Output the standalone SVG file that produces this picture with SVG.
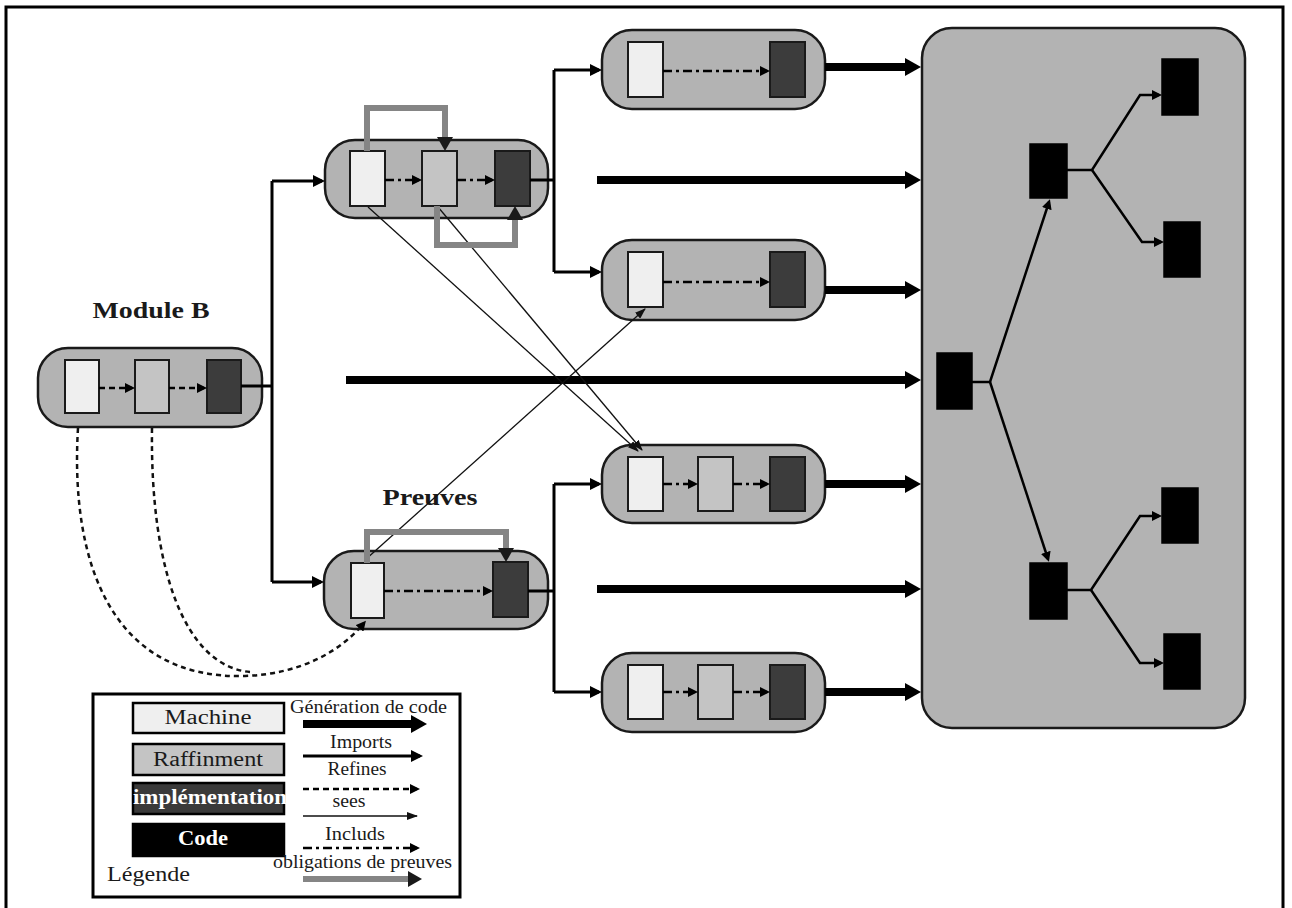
<svg xmlns="http://www.w3.org/2000/svg" width="1292" height="908" viewBox="0 0 1292 908">
  <style>
    .capsule { fill: #b3b3b3; stroke: #1a1a1a; stroke-width: 2.5; }
    .machine { fill: #efefef; stroke: #1a1a1a; stroke-width: 2; }
    .raff { fill: #c4c4c4; stroke: #1a1a1a; stroke-width: 2; }
    .impl { fill: #3c3c3c; stroke: #1a1a1a; stroke-width: 2; }
    .code { fill: #000; stroke: #000; stroke-width: 1.5; }
    .gen { fill: none; stroke: #000; stroke-width: 8; }
    .imp { fill: none; stroke: #000; stroke-width: 3; }
    .refines { fill: none; stroke: #000; stroke-width: 2.5; stroke-dasharray: 6 4; }
    .includs { fill: none; stroke: #000; stroke-width: 2.5; stroke-dasharray: 9 4 3 4; }
    .sees { fill: none; stroke: #111; stroke-width: 1.3; }
    .proof { fill: none; stroke: #858585; stroke-width: 6; }
    .curve { fill: none; stroke: #111; stroke-width: 2.5; stroke-dasharray: 5 4; }
    .tree { fill: none; stroke: #000; stroke-width: 2.5; }
    .title { font-family: "Liberation Serif", serif; font-weight: bold; fill: #1a1a1a; }
    .lg { font-family: "Liberation Serif", serif; fill: #1a1a1a; }
    .lgw { font-family: "Liberation Serif", serif; font-weight: bold; fill: #fff; }
  </style>
  <defs>
    <marker id="m-gen" markerUnits="userSpaceOnUse" markerWidth="16" markerHeight="18" refX="8" refY="9" orient="auto">
      <path d="M0,0 L16,9 L0,18 z" fill="#000"/>
    </marker>
    <marker id="m-imp" markerUnits="userSpaceOnUse" markerWidth="12" markerHeight="12" refX="9" refY="6" orient="auto">
      <path d="M0,0 L12,6 L0,12 z" fill="#000"/>
    </marker>
    <marker id="m-dash" markerUnits="userSpaceOnUse" markerWidth="10" markerHeight="10" refX="7" refY="5" orient="auto">
      <path d="M0,0 L10,5 L0,10 z" fill="#000"/>
    </marker>
    <marker id="m-sees" markerUnits="userSpaceOnUse" markerWidth="11" markerHeight="8" refX="10" refY="4" orient="auto">
      <path d="M0,0 L11,4 L0,8 z" fill="#111"/>
    </marker>
    <marker id="m-proof" markerUnits="userSpaceOnUse" markerWidth="14" markerHeight="16" refX="8" refY="8" orient="auto">
      <path d="M0,0 L14,8 L0,16 z" fill="#1a1a1a"/>
    </marker>
    <marker id="m-code" markerUnits="userSpaceOnUse" markerWidth="10" markerHeight="10" refX="7" refY="5" orient="auto">
      <path d="M0,0 L10,5 L0,10 z" fill="#000"/>
    </marker>
  </defs>

  <rect width="1292" height="908" fill="#fff"/>
  <!-- page frame -->
  <path d="M6,908 V7 H1283 V908" fill="none" stroke="#000" stroke-width="3"/>

  <!-- Module B: machine, refinement, implementation -->
  <g id="module-b">
    <text class="title" x="151" y="318" font-size="24" text-anchor="middle" textLength="117" lengthAdjust="spacingAndGlyphs">Module B</text>
    <rect class="capsule" x="38" y="348" width="224" height="79" rx="30"/>
    <rect class="machine" x="65" y="360" width="34" height="53"/>
    <rect class="raff" x="135" y="360" width="34" height="53"/>
    <rect class="impl" x="207" y="360" width="34" height="53"/>
    <path class="refines" d="M99,388 H132" marker-end="url(#m-dash)"/>
    <path class="refines" d="M169,388 H204" marker-end="url(#m-dash)"/>
  </g>

  <!-- upper module: machine, refinement, implementation -->
  <g id="module-upper">
    <rect class="capsule" x="325" y="140" width="223" height="78" rx="30"/>
    <rect class="machine" x="350" y="151" width="35" height="55"/>
    <rect class="raff" x="422" y="151" width="35" height="55"/>
    <rect class="impl" x="495" y="151" width="35" height="55"/>
    <path class="includs" d="M385,180 H419" marker-end="url(#m-dash)"/>
    <path class="includs" d="M457,180 H492" marker-end="url(#m-dash)"/>
  </g>

  <!-- Preuves module -->
  <g id="module-preuves">
    <text class="title" x="430" y="505" font-size="24" text-anchor="middle" textLength="95" lengthAdjust="spacingAndGlyphs">Preuves</text>
    <rect class="capsule" x="324" y="551" width="224" height="78" rx="30"/>
    <rect class="machine" x="351" y="563" width="33" height="55"/>
    <rect class="impl" x="493" y="562" width="35" height="55"/>
    <path class="includs" d="M384,591 H490" marker-end="url(#m-dash)"/>
  </g>

  <!-- imported modules -->
  <g id="module-1">
    <rect class="capsule" x="602" y="30" width="223" height="79" rx="30"/>
    <rect class="machine" x="628" y="42" width="35" height="55"/>
    <rect class="impl" x="770" y="42" width="35" height="55"/>
    <path class="includs" d="M663,71 H767" marker-end="url(#m-dash)"/>
  </g>
  <g id="module-2">
    <rect class="capsule" x="602" y="240" width="223" height="80" rx="30"/>
    <rect class="machine" x="628" y="252" width="35" height="55"/>
    <rect class="impl" x="770" y="252" width="35" height="55"/>
    <path class="includs" d="M663,282 H767" marker-end="url(#m-dash)"/>
  </g>
  <g id="module-3">
    <rect class="capsule" x="602" y="445" width="223" height="78" rx="30"/>
    <rect class="machine" x="628" y="457" width="35" height="54"/>
    <rect class="raff" x="698" y="457" width="35" height="54"/>
    <rect class="impl" x="770" y="457" width="35" height="54"/>
    <path class="includs" d="M663,484 H695" marker-end="url(#m-dash)"/>
    <path class="includs" d="M733,484 H767" marker-end="url(#m-dash)"/>
  </g>
  <g id="module-4">
    <rect class="capsule" x="602" y="653" width="223" height="79" rx="30"/>
    <rect class="machine" x="628" y="665" width="35" height="54"/>
    <rect class="raff" x="698" y="665" width="35" height="54"/>
    <rect class="impl" x="770" y="665" width="35" height="54"/>
    <path class="includs" d="M663,692 H695" marker-end="url(#m-dash)"/>
    <path class="includs" d="M733,692 H767" marker-end="url(#m-dash)"/>
  </g>

  <!-- generated code tree -->
  <g id="code-tree">
    <rect class="capsule" x="922" y="28" width="323" height="700" rx="30"/>
    <rect class="code" x="937" y="353" width="35" height="56"/>
    <rect class="code" x="1030" y="144" width="37" height="54"/>
    <rect class="code" x="1030" y="563" width="37" height="56"/>
    <rect class="code" x="1162" y="59" width="36" height="56"/>
    <rect class="code" x="1164" y="222" width="36" height="55"/>
    <rect class="code" x="1162" y="488" width="36" height="55"/>
    <rect class="code" x="1164" y="634" width="36" height="55"/>
    <path class="tree" d="M972,382 H990 L1049,202" marker-end="url(#m-code)"/>
    <path class="tree" d="M990,382 L1048,559" marker-end="url(#m-code)"/>
    <path class="tree" d="M1067,170 H1092 L1140,95 H1159" marker-end="url(#m-code)"/>
    <path class="tree" d="M1092,170 L1142,242 H1161" marker-end="url(#m-code)"/>
    <path class="tree" d="M1067,590 H1091 L1140,516 H1159" marker-end="url(#m-code)"/>
    <path class="tree" d="M1091,590 L1140,663 H1161" marker-end="url(#m-code)"/>
  </g>

  <!-- connectors between modules -->
  <g id="connectors">
    <!-- imports -->
    <path class="imp" d="M241,386 H272"/>
    <path class="imp" d="M272,181 V582"/>
    <path class="imp" d="M272,181 H322" marker-end="url(#m-imp)"/>
    <path class="imp" d="M272,582 H321" marker-end="url(#m-imp)"/>
    <path class="imp" d="M530,180 H554"/>
    <path class="imp" d="M554,70 V272"/>
    <path class="imp" d="M554,70 H599" marker-end="url(#m-imp)"/>
    <path class="imp" d="M554,272 H599" marker-end="url(#m-imp)"/>
    <path class="imp" d="M528,591 H554"/>
    <path class="imp" d="M554,484 V692"/>
    <path class="imp" d="M554,484 H599" marker-end="url(#m-imp)"/>
    <path class="imp" d="M554,692 H599" marker-end="url(#m-imp)"/>

    <!-- code generation -->
    <path class="gen" d="M825,67 H913" marker-end="url(#m-gen)"/>
    <path class="gen" d="M597,180 H913" marker-end="url(#m-gen)"/>
    <path class="gen" d="M825,290 H913" marker-end="url(#m-gen)"/>
    <path class="gen" d="M346,380 H913" marker-end="url(#m-gen)"/>
    <path class="gen" d="M825,484 H913" marker-end="url(#m-gen)"/>
    <path class="gen" d="M597,589 H913" marker-end="url(#m-gen)"/>
    <path class="gen" d="M825,692 H913" marker-end="url(#m-gen)"/>

    <!-- sees -->
    <path class="sees" d="M368,207 L638,451" marker-end="url(#m-sees)"/>
    <path class="sees" d="M438,207 L642,450" marker-end="url(#m-sees)"/>
    <path class="sees" d="M365,560 L645,309" marker-end="url(#m-sees)"/>

    <!-- proof obligations -->
    <path class="proof" d="M367,151 V108 H445 V145" marker-end="url(#m-proof)"/>
    <path class="proof" d="M437,206 V245 H515 V212" marker-end="url(#m-proof)"/>
    <path class="proof" d="M367,563 V532 H506 V556" marker-end="url(#m-proof)"/>

    <!-- refines from Module B -->
    <path class="curve" d="M78,428 C70,560 110,680 245,676 C300,674 340,652 364,623" marker-end="url(#m-dash)"/>
    <path class="curve" d="M152,428 C150,570 185,666 250,672"/>
  </g>

  <!-- legend -->
  <g id="legend">
    <rect x="93" y="694" width="367" height="203" fill="#fff" stroke="#000" stroke-width="3"/>
    <rect x="133" y="703" width="151" height="30" fill="#efefef" stroke="#000" stroke-width="2.5"/>
    <text class="lg" x="208" y="724" font-size="20" text-anchor="middle" textLength="87" lengthAdjust="spacingAndGlyphs">Machine</text>
    <rect x="133" y="744" width="151" height="31" fill="#c4c4c4" stroke="#000" stroke-width="2.5"/>
    <text class="lg" x="208" y="766" font-size="20" text-anchor="middle" textLength="110" lengthAdjust="spacingAndGlyphs">Raffinment</text>
    <rect x="133" y="783" width="151" height="31" fill="#3a3a3a" stroke="#000" stroke-width="2.5"/>
    <text class="lgw" x="210" y="804" font-size="20" text-anchor="middle" textLength="154" lengthAdjust="spacingAndGlyphs">implémentation</text>
    <rect x="133" y="824" width="151" height="32" fill="#000" stroke="#000" stroke-width="2.5"/>
    <text class="lgw" x="203" y="845" font-size="20" text-anchor="middle" textLength="50" lengthAdjust="spacingAndGlyphs">Code</text>
    <text class="lg" x="107" y="881" font-size="20" textLength="83" lengthAdjust="spacingAndGlyphs">Légende</text>

    <text class="lg" x="290" y="713" font-size="18" textLength="157" lengthAdjust="spacingAndGlyphs">Génération de code</text>
    <path class="gen" d="M303,724 H419" stroke-width="10" marker-end="url(#m-gen)"/>
    <text class="lg" x="361" y="748" font-size="18" text-anchor="middle" textLength="62" lengthAdjust="spacingAndGlyphs">Imports</text>
    <path class="imp" d="M303,756 H420" stroke-width="4" marker-end="url(#m-imp)"/>
    <text class="lg" x="357" y="775" font-size="18" text-anchor="middle" textLength="59" lengthAdjust="spacingAndGlyphs">Refines</text>
    <path class="refines" d="M303,789 H417" stroke-dasharray="9 6" marker-end="url(#m-dash)"/>
    <text class="lg" x="349" y="807" font-size="18" text-anchor="middle" textLength="33" lengthAdjust="spacingAndGlyphs">sees</text>
    <path class="sees" d="M303,816 H417" marker-end="url(#m-sees)"/>
    <text class="lg" x="355" y="840" font-size="18" text-anchor="middle" textLength="60" lengthAdjust="spacingAndGlyphs">Includs</text>
    <path class="includs" d="M303,848 H417" marker-end="url(#m-dash)"/>
    <text class="lg" x="273" y="868" font-size="18" textLength="179" lengthAdjust="spacingAndGlyphs">obligations de preuves</text>
    <path class="proof" d="M303,879 H416" stroke-width="5" marker-end="url(#m-proof)"/>
  </g>
</svg>
